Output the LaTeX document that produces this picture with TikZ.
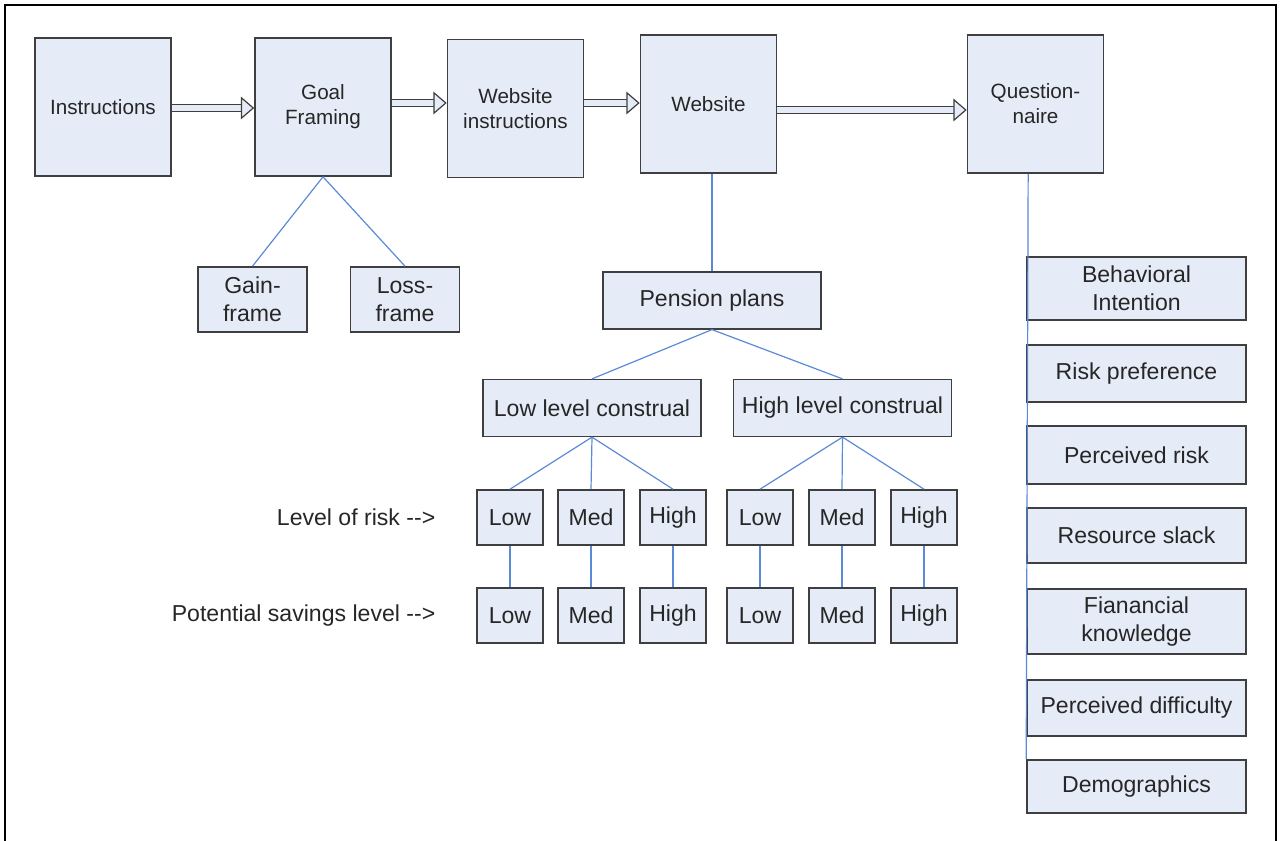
\documentclass[tikz,border=0pt]{standalone}
\usepackage{fontspec}
\setmainfont{Liberation Sans}
\usetikzlibrary{arrows.meta}

\definecolor{boxfill}{HTML}{E6ECF7}
\definecolor{boxedge}{HTML}{3F3F3F}
\definecolor{linkblue}{HTML}{5B8AD6}

\tikzset{
  stage/.style = {rectangle, draw = boxedge, fill = boxfill, line width = 1.2pt, align = center},
  bigbox/.style = {stage, minimum width = 102pt, minimum height = 103.5pt, font = \fontsize{15.5}{18.75}\selectfont},
  framebox/.style = {stage, minimum width = 81.75pt, minimum height = 48.75pt},
  widebox/.style = {stage, minimum width = 163.5pt, minimum height = 42.5pt},
  levelbox/.style = {stage, minimum width = 49.5pt, minimum height = 41.25pt},
  measurebox/.style = {stage, minimum width = 164.25pt},
  link/.style = {draw = linkblue, line width = 0.9pt},
  flow/.style = {draw = boxedge, line width = 0.9pt, double = boxfill, double distance = 4.6pt,
    -{Triangle[open, length = 10pt, width = 17pt, fill = boxfill]}}
}

\begin{document}
\begin{tikzpicture}[x = 0.75pt, y = -0.75pt, font = \fontsize{17.3}{21}\selectfont, text = black!85]
\useasboundingbox (0,0) rectangle (1282,841);
\draw [line width = 1pt] (5,5) rectangle (1276,880);

% top row
\draw (103,107) node[bigbox](instr){Instructions}
    (323,107) node[bigbox](goal){Goal\\Framing}
    (515.5,108.5) node[bigbox](webinstr){Website\\instructions}
    (708.5,104) node[bigbox](website){Website}
    (1035.5,104) node[bigbox](quest){Question-\\naire};
\draw [flow] (instr.east |- 0,108) -- (goal.west |- 0,108);
\draw [flow] (goal.east |- 0,103) -- (webinstr.west |- 0,103);
\draw [flow] (webinstr.east |- 0,103) -- (website.west |- 0,103);
\draw [flow] (website.east |- 0,110) -- (quest.west |- 0,110);

% framing
\draw (252.5,299.5) node[framebox](gain){Gain-\\frame}
    (405,299.5) node[framebox](loss){Loss-\\frame};
\draw [link] (goal.south) -- (gain.north);
\draw [link] (goal.south) -- (loss.north);

% pension plans
\draw (712,300.5) node[widebox](pension){Pension plans}
    (592,408) node[widebox](lowcon){Low level construal}
    (842.5,408) node[widebox](highcon){High level construal};
\draw [link] (website.south -| pension.north) -- (pension.north);
\draw [link] (pension.south) -- (lowcon.north);
\draw [link] (pension.south) -- (highcon.north);

\draw (440,517.5) node[anchor = east](risklabel){Level of risk -{}->}
    (440,615.5) node[anchor = east](savelabel){Potential savings level -{}->};

\draw (510,517.5) node[levelbox](r1){Low}
    (591,517.5) node[levelbox](r2){Med}
    (673,517.5) node[levelbox](r3){High}
    (760,517.5) node[levelbox](r4){Low}
    (842,517.5) node[levelbox](r5){Med}
    (924,517.5) node[levelbox](r6){High};
\draw (510,615.5) node[levelbox](s1){Low}
    (591,615.5) node[levelbox](s2){Med}
    (673,615.5) node[levelbox](s3){High}
    (760,615.5) node[levelbox](s4){Low}
    (842,615.5) node[levelbox](s5){Med}
    (924,615.5) node[levelbox](s6){High};
\draw [link] (lowcon.south) -- (r1.north);
\draw [link] (lowcon.south) -- (r2.north);
\draw [link] (lowcon.south) -- (r3.north);
\draw [link] (highcon.south) -- (r4.north);
\draw [link] (highcon.south) -- (r5.north);
\draw [link] (highcon.south) -- (r6.north);
\foreach \i in {1,...,6}
    \draw [link] (r\i.south) -- (s\i.north);

% questionnaire measures
\draw (1136.5,288.5) node[measurebox, minimum height = 47.25pt](intent){Behavioral\\Intention}
    (1136.5,373.5) node[measurebox, minimum height = 42.75pt](riskpref){Risk preference}
    (1136.5,455) node[measurebox, minimum height = 43.5pt](riskperc){Perceived risk}
    (1136.5,535.5) node[measurebox, minimum height = 41.25pt](slack){Resource slack}
    (1136.5,621.5) node[measurebox, minimum height = 48.75pt](knowledge){Fianancial\\knowledge}
    (1136.5,708) node[measurebox, minimum height = 42pt](difficulty){Perceived difficulty}
    (1136.5,786.5) node[measurebox, minimum height = 39.75pt](demo){Demographics};
\draw [link] ([xshift = -5.5pt]quest.south) -- (demo.north west);
\end{tikzpicture}
\end{document}
